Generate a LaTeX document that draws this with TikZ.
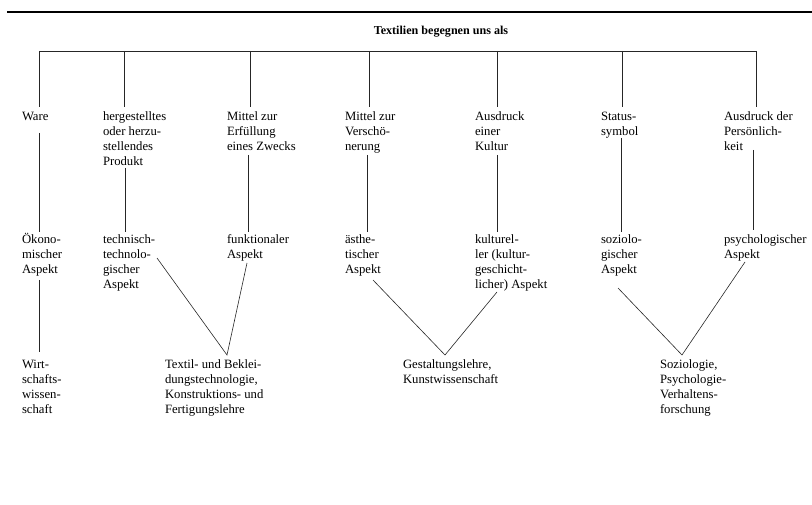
\documentclass[tikz,border=0pt]{standalone}
\usepackage{fontspec}
\setmainfont{Liberation Serif}
\begin{document}
\begin{tikzpicture}[x=1pt,y=-1pt,
  lbl/.style={anchor=north west, inner sep=0pt, outer sep=0pt, align=left,
              font=\fontsize{12.7}{15}\selectfont},
  conn/.style={line width=0.6pt, draw=black!85}]
\useasboundingbox (0,0) rectangle (812,505);

% heading rule and title
\draw[line width=2.6pt] (7,12) -- (812,12);
\node[anchor=base, inner sep=0pt, font=\bfseries\fontsize{12.1}{14}\selectfont]
  (title) at (441,35) {Textilien begegnen uns als};

% first row: what textiles are met as
\node[lbl] (ware)   at (22,110.5)  {\strut Ware};
\node[lbl] (herg)   at (103,110.5) {\strut hergestelltes\\oder herzu-\\stellendes\\Produkt};
\node[lbl] (zweck)  at (227,110.5) {\strut Mittel zur\\Erfüllung\\eines Zwecks};
\node[lbl] (versch) at (345,110.5) {\strut Mittel zur\\Verschö-\\nerung};
\node[lbl] (kultur) at (475,110.5) {\strut Ausdruck\\einer\\Kultur};
\node[lbl] (status) at (601,110.5) {\strut Status-\\symbol};
\node[lbl] (pers)   at (724,110.5) {\strut Ausdruck der\\Persönlich-\\keit};

% second row: aspects
\node[lbl] (oek)    at (22,233.5)  {\strut Ökono-\\mischer\\Aspekt};
\node[lbl] (tech)   at (103,233.5) {\strut technisch-\\technolo-\\gischer\\Aspekt};
\node[lbl] (funk)   at (227,233.5) {\strut funktionaler\\Aspekt};
\node[lbl] (aesth)  at (345,233.5) {\strut ästhe-\\tischer\\Aspekt};
\node[lbl] (kult)   at (475,233.5) {\strut kulturel-\\ler (kultur-\\geschicht-\\licher) Aspekt};
\node[lbl] (soz)    at (601,233.5) {\strut soziolo-\\gischer\\Aspekt};
\node[lbl] (psy)    at (724,233.5) {\strut psychologischer\\Aspekt};

% third row: disciplines
\node[lbl] (wirt)    at (22,357.5)  {\strut Wirt-\\schafts-\\wissen-\\schaft};
\node[lbl] (textil)  at (165,357.5) {\strut Textil- und Beklei-\\dungstechnologie,\\Konstruktions- und\\Fertigungslehre};
\node[lbl] (gestalt) at (403,357.5) {\strut Gestaltungslehre,\\Kunstwissenschaft};
\node[lbl] (soziol)  at (660,357.5) {\strut Soziologie,\\Psychologie-\\Verhaltens-\\forschung};

% branching bar under the title
\coordinate (b1) at (39,51);
\coordinate (b2) at (124,51);
\coordinate (b3) at (250,51);
\coordinate (b4) at (369,51);
\coordinate (b5) at (497,51);
\coordinate (b6) at (622,51);
\coordinate (b7) at (756,51);
\draw[conn] (b1) -- (b7);
\foreach \b/\n in {b1/ware,b2/herg,b3/zweck,b4/versch,b5/kultur,b6/status,b7/pers}
  \draw[conn] (\b) -- ([yshift=3.5pt]\b |- \n.north);

% links from the first row down to the aspects
\coordinate (m1) at (39,133);
\coordinate (m2) at (125,168);
\coordinate (m3) at (248,155);
\coordinate (m4) at (367,155);
\coordinate (m5) at (497,155);
\coordinate (m6) at (621,138);
\coordinate (m7) at (753,150);
\foreach \m/\n in {m1/oek,m2/tech,m3/funk,m4/aesth,m5/kult,m6/soz}
  \draw[conn] (\m) -- ([yshift=1.5pt]\m |- \n.north);
\draw[conn] (m7) -- ([yshift=3.5pt]m7 |- psy.north);

% links from the aspects down to the disciplines
\coordinate (o1) at (39,280);
\draw[conn] (o1) -- ([yshift=5.5pt]o1 |- wirt.north);

\coordinate (t1) at (157,258);
\coordinate (t2) at (247,263);
\coordinate (tv) at (227,355);
\draw[conn] (t1) -- (tv) -- (t2);

\coordinate (g1) at (373,280);
\coordinate (g2) at (497,292);
\coordinate (gv) at (445,355);
\draw[conn] (g1) -- (gv) -- (g2);

\coordinate (s1) at (618,288);
\coordinate (s2) at (745,262);
\coordinate (sv) at (682,355);
\draw[conn] (s1) -- (sv) -- (s2);
\end{tikzpicture}
\end{document}
